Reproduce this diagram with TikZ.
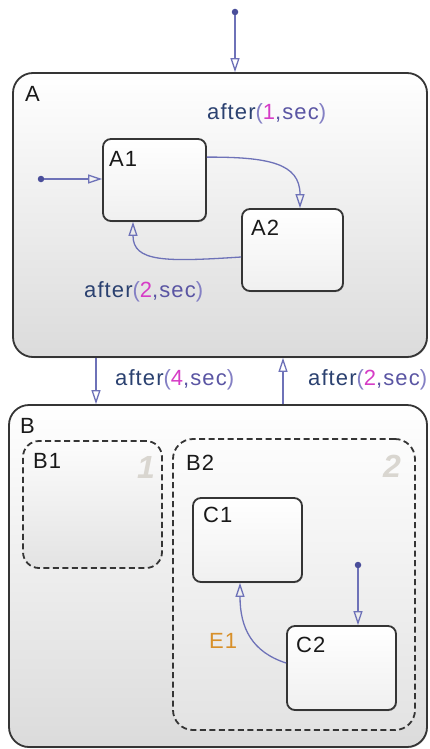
\documentclass[tikz,border=0pt]{standalone}
\usepackage{fontspec}
\setmainfont{Liberation Sans}[LetterSpace=5]
\usetikzlibrary{arrows.meta,calc,shadows}
\definecolor{arr}{HTML}{6E72B8}
\definecolor{dotc}{HTML}{4A4E9A}
\definecolor{navy}{HTML}{2B4170}
\definecolor{purp}{HTML}{5A55A3}
\definecolor{lav}{HTML}{8480C4}
\definecolor{mag}{HTML}{D63CC6}
\definecolor{orng}{HTML}{D8902A}
\definecolor{bord}{HTML}{353535}
\definecolor{numgray}{HTML}{D9D6D0}
\newcommand\aft[1]{\textcolor{navy}{after}\textcolor{lav}{(}\textcolor{mag}{#1}\textcolor{purp}{,sec}\textcolor{lav}{)}}
\begin{document}
\begin{tikzpicture}[x=1pt,y=-1pt,
  shad/.style={drop shadow={shadow xshift=0.8pt, shadow yshift=-1pt, opacity=0.25, fill=black}},
  bigstate/.style={draw=bord, line width=1.8pt, rounded corners=20pt, top color=white, bottom color=black!14, inner sep=0pt, shad},
  substate/.style={draw=bord, line width=1.8pt, rounded corners=8pt, top color=white, bottom color=black!6, inner sep=0pt, shad},
  parstate/.style={draw=bord, line width=1.8pt, dash pattern=on 6pt off 3.5pt, rounded corners=16pt, top color=black!1, bottom color=black!11, inner sep=0pt},
  lbl/.style={anchor=base west, inner sep=0pt, font=\fontsize{22}{24}\selectfont, text=black!90},
  trans/.style={draw=arr, line width=1.3pt, -{Triangle[open, length=14pt, width=9pt, line width=1.3pt]}},
  dotn/.style={circle, fill=dotc, inner sep=0pt, minimum size=6.5pt},
  numl/.style={anchor=base west, inner sep=0pt, font=\fontsize{32}{34}\selectfont\bfseries\itshape, text=numgray},
]
\useasboundingbox (0,0) rectangle (429,749);
% superstates
\node[bigstate, minimum width=414pt, minimum height=284pt] (A) at (220,215) {};
\node[bigstate, minimum width=418pt, minimum height=342pt] (B) at (218,576) {};
% A substates
\node[substate, minimum width=103pt, minimum height=82pt] (A1) at (154.5,180) {};
\node[substate, minimum width=101pt, minimum height=82pt] (A2) at (292.5,250) {};
% B parallel states
\node[parstate, minimum width=139pt, minimum height=127pt] (B1) at (92.5,504.5) {};
\node[parstate, rounded corners=20pt, minimum width=242pt, minimum height=291pt] (B2) at (294,584.5) {};
\node[substate, minimum width=109pt, minimum height=84pt] (C1) at (247.5,540) {};
\node[substate, minimum width=109pt, minimum height=84pt] (C2) at (341.5,668) {};
% labels
\node[lbl] (lA) at (25,102) {A};
\node[lbl] (lA1) at (109,166) {A1};
\node[lbl] (lA2) at (251,235) {A2};
\node[lbl] (lB) at (20,433) {B};
\node[lbl] (lB1) at (33,468) {B1};
\node[lbl] (lB2) at (186,470) {B2};
\node[lbl] (lC1) at (203,522) {C1};
\node[lbl] (lC2) at (296,652) {C2};
\node[numl] (n1) at (137,478) {1};
\node[numl] (n2) at (383,477) {2};
\node[lbl] (t1) at (207,120) {\aft{1}};
\node[lbl] (t2) at (84,297) {\aft{2}};
\node[lbl] (t3) at (115,385) {\aft{4}};
\node[lbl] (t4) at (308,385) {\aft{2}};
\node[lbl, text=orng] (e1) at (209,648) {E1};
% default transitions
\node[dotn] (d1) at (235,12) {};
\node[dotn] (d2) at (41,179) {};
\node[dotn] (d3) at (358,565) {};
\draw[trans] (d1) -- (A.north -| d1);
\draw[trans] (d2) -- (A1.west |- d2);
\draw[trans] (d3) -- (C2.north -| d3);
% transitions
\coordinate (xa) at (96,380);
\coordinate (xb) at (283,380);
\draw[trans] (A.south -| xa) -- (B.north -| xa);
\draw[trans] (B.north -| xb) -- (A.south -| xb);
\draw[trans] ($(A1.north east)+(0,19)$) .. controls (268,157) and (300,163) .. ($(A2.north)+(7.5,0)$);
\draw[trans] ($(A2.west)+(0,7)$) .. controls (165,262) and (133,262) .. ($(A1.south)+(-21.5,0)$);
\draw[trans] ($(C2.west)+(0,-5)$) .. controls (252,652) and (240,628) .. ($(C1.south)+(-7.5,0)$);
\end{tikzpicture}
\end{document}
